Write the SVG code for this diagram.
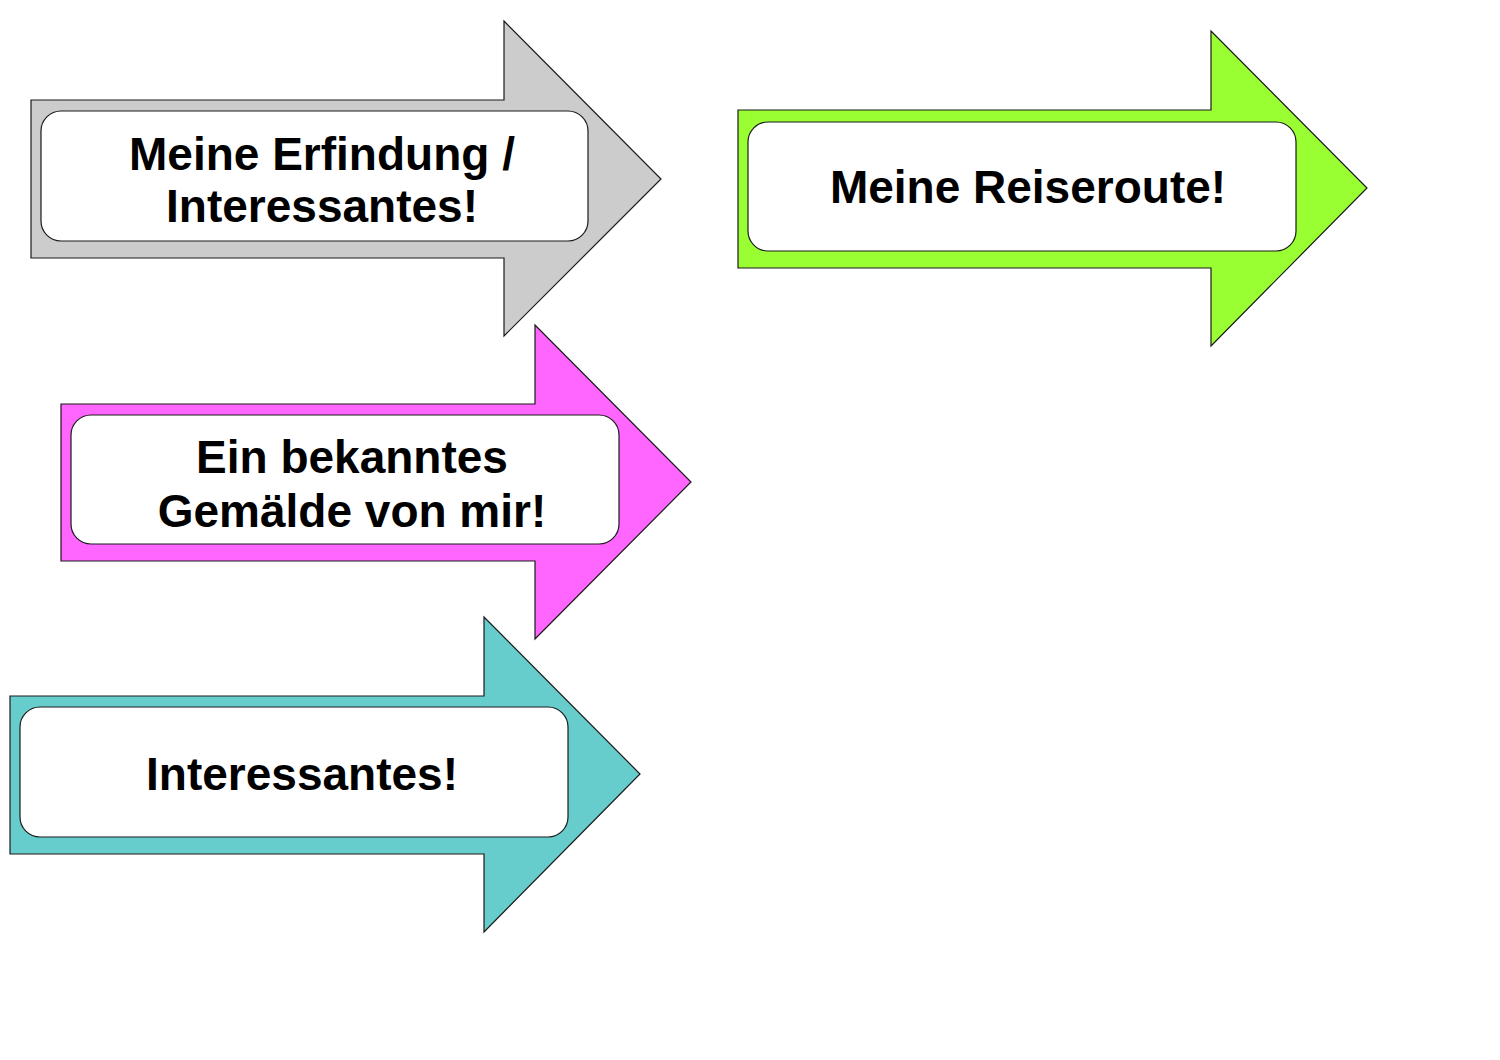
<svg xmlns="http://www.w3.org/2000/svg" width="1500" height="1060" viewBox="0 0 1500 1060">
<style>
.arrow{stroke:#1a1a1a;stroke-width:1.2}
.box{fill:#ffffff;stroke:#1a1a1a;stroke-width:1.2}
.lbl{font-family:"Liberation Sans",Arial,sans-serif;font-weight:bold;font-size:46px;fill:#000;text-anchor:middle}
</style>
<rect width="1500" height="1060" fill="#ffffff"/>
<g id="node-erfindung">
<polygon class="arrow" fill="#cccccc" points="31,100 504,100 504,21 661,179 504,336 504,258 31,258"/>
<rect class="box" x="41" y="111" width="547" height="130" rx="20"/>
<text class="lbl" x="322" y="170">Meine Erfindung /</text>
<text class="lbl" x="322" y="222">Interessantes!</text>
</g>
<g id="node-reiseroute">
<polygon class="arrow" fill="#99ff33" points="738,110 1211,110 1211,31 1367,188 1211,346 1211,268 738,268"/>
<rect class="box" x="748" y="122" width="548" height="129" rx="20"/>
<text class="lbl" x="1028" y="203">Meine Reiseroute!</text>
</g>
<g id="node-gemaelde">
<polygon class="arrow" fill="#ff66ff" points="61,404 535,404 535,325 691,482 535,639 535,561 61,561"/>
<rect class="box" x="71" y="415" width="548" height="129" rx="20"/>
<text class="lbl" x="352" y="473">Ein bekanntes</text>
<text class="lbl" x="352" y="527">Gemälde von mir!</text>
</g>
<g id="node-interessantes">
<polygon class="arrow" fill="#66cccc" points="10,696 484,696 484,617 640,774 484,932 484,854 10,854"/>
<rect class="box" x="20" y="707" width="548" height="130" rx="20"/>
<text class="lbl" x="302" y="790">Interessantes!</text>
</g>
<g id="connectors"></g>
</svg>
